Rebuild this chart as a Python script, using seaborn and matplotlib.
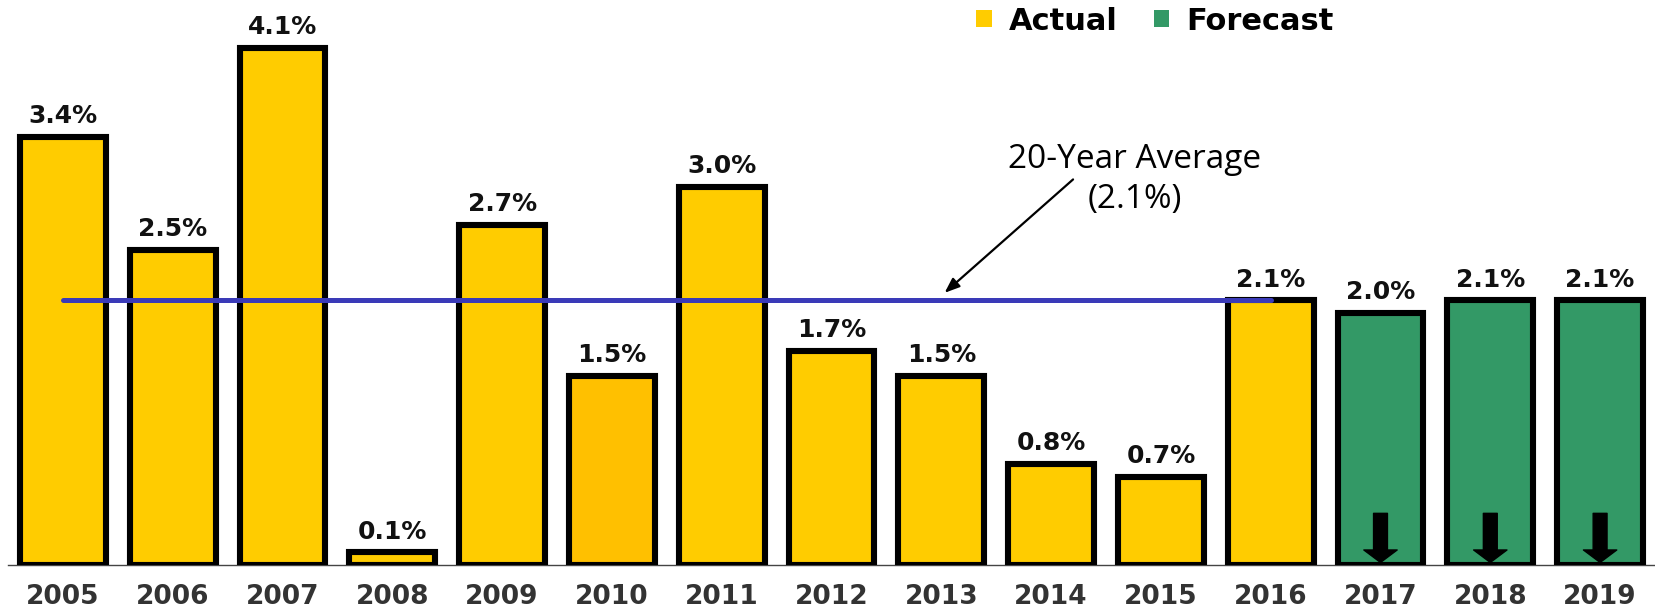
import matplotlib
matplotlib.use("Agg")
import matplotlib.pyplot as plt
from matplotlib.patches import Patch
import pandas as pd
import seaborn as sns

# Annual growth rates (%)
years = ["2005", "2006", "2007", "2008", "2009", "2010", "2011", "2012",
         "2013", "2014", "2015", "2016", "2017", "2018", "2019"]
growth = [3.4, 2.5, 4.1, 0.1, 2.7, 1.5, 3.0, 1.7, 1.5, 0.8, 0.7, 2.1, 2.0, 2.1, 2.1]
kind = ["Actual"] * 12 + ["Forecast"] * 3
average_label = "20-Year Average\n(2.1%)"
average_value = 2.1
average_span = ("2005", "2016")

ACTUAL = "#FFCC00"
ACTUAL_2010 = "#FFC000"
FORECAST = "#339966"
AVG_LINE = "#3A3AB8"

df = pd.DataFrame({"year": years, "growth": growth, "kind": kind})
bar_colors = {y: (FORECAST if k == "Forecast" else ACTUAL) for y, k in zip(years, kind)}
bar_colors["2010"] = ACTUAL_2010

sns.set_style("white")
fig = plt.figure(figsize=(16.55, 6.1), dpi=100)
ax = fig.add_axes([8 / 1655, 45 / 610, 1 - 8 / 1655, 565 / 610])

sns.barplot(data=df, x="year", y="growth", hue="year", palette=bar_colors,
            saturation=1, dodge=False, width=0.78, edgecolor="black", linewidth=4.4,
            legend=False, ax=ax, zorder=2)

ax.set_xlim(-0.5, len(years) - 0.5)
ax.set_ylim(0, 4.484)

# Value labels above each bar
for i, v in enumerate(growth):
    ax.annotate(f"{v:.1f}%", xy=(i, v), xytext=(0, 10), textcoords="offset points",
                ha="center", va="baseline", fontsize=18, fontweight="bold",
                color="#111111", family="DejaVu Sans", zorder=5)

# Average line across the actual period
x0, x1 = years.index(average_span[0]), years.index(average_span[1])
ax.plot([x0, x1], [average_value, average_value], color=AVG_LINE, lw=3.6,
        solid_capstyle="round", zorder=4)

ax.annotate("", xy=(8.03, average_value + 0.06), xytext=(9.2, 3.06),
            arrowprops=dict(arrowstyle="-|>,head_length=0.9,head_width=0.35",
                            color="black", lw=1.6, shrinkA=0, shrinkB=0), zorder=5)
ax.text(9.76, 3.06, average_label, ha="center", va="center", fontsize=24,
        family="Open Sans", color="black", linespacing=1.3, zorder=5)

# Downward arrows inside forecast bars
for i, k in enumerate(kind):
    if k == "Forecast":
        ax.annotate("", xy=(i, 0.02), xytext=(i, 0.41),
                    arrowprops=dict(arrowstyle="simple,head_length=0.9,head_width=2.4,tail_width=1.0",
                                    color="black", mutation_scale=10, shrinkA=0, shrinkB=0),
                    zorder=5)

# Axis styling
for s in ["top", "right", "left"]:
    ax.spines[s].set_visible(False)
ax.spines["bottom"].set_color("#444444")
ax.spines["bottom"].set_linewidth(1.0)
ax.spines["bottom"].set_zorder(1)
ax.set_yticks([])
ax.set_xlabel("")
ax.set_ylabel("")
ax.tick_params(axis="x", length=0, pad=14)
for lbl in ax.get_xticklabels():
    lbl.set_fontsize(19)
    lbl.set_fontweight("bold")
    lbl.set_color("#333333")
    lbl.set_family("DejaVu Sans")

handles = [Patch(facecolor=ACTUAL, edgecolor="none", label="Actual"),
           Patch(facecolor=FORECAST, edgecolor="none", label="Forecast")]
fig.legend(handles=handles, loc="center", bbox_to_anchor=(1155 / 1655, 1 - 21 / 610),
           ncol=2, frameon=False, labelcolor="black",
           prop=dict(family="DejaVu Sans", weight="bold", size=22),
           handlelength=0.5, handleheight=0.5, handletextpad=0.55, columnspacing=1.2,
           borderpad=0, borderaxespad=0)

fig.savefig("out.png", dpi=100, facecolor="white")
